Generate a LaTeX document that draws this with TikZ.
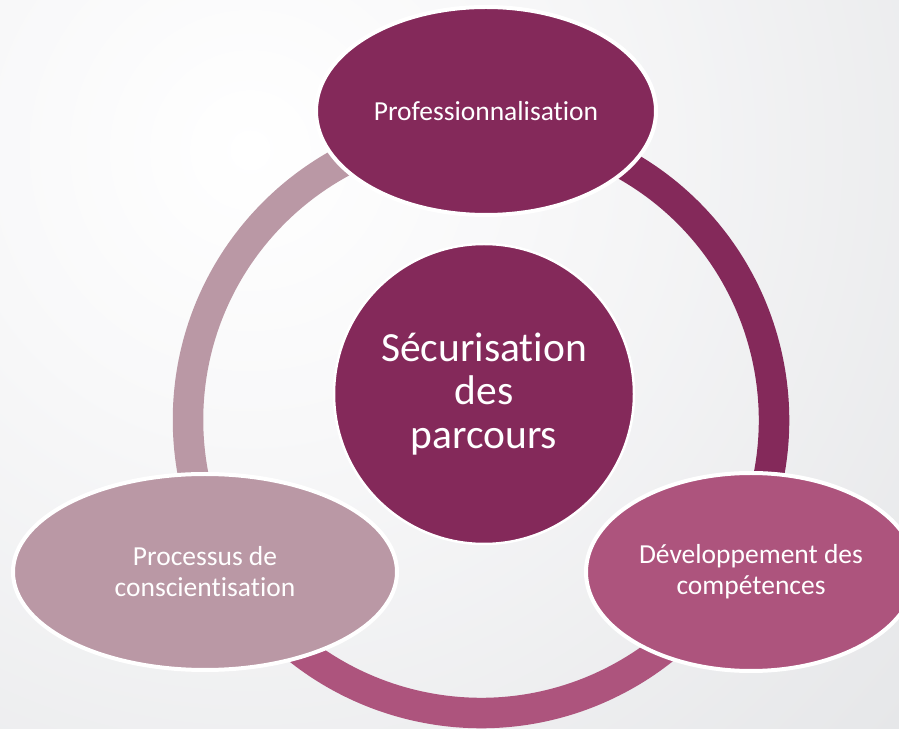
\documentclass[tikz,border=0pt]{standalone}
\usepackage{fontspec}
\setmainfont{Carlito}[RawFeature={-liga;-clig}]
\usetikzlibrary{shapes.geometric}
\definecolor{darkplum}{HTML}{84295A}
\definecolor{midplum}{HTML}{AD547D}
\definecolor{lightplum}{HTML}{BA98A5}
\definecolor{bgA}{HTML}{F8F8F9}
\definecolor{bgB}{HTML}{E5E6E8}
\pgfdeclareradialshading{bgshade}{\pgfpoint{0bp}{0bp}}{color(0bp)=(white); color(280bp)=(bgA); color(900bp)=(bgB)}
\tikzset{
  ringseg/.style={line width=30.5pt},
  blob/.style={ellipse, draw=white, line width=4pt, inner sep=0pt, text=white, align=center,
    font=\fontsize{27.5}{31}\selectfont},
  hub/.style={circle, draw=white, line width=2.5pt, inner sep=0pt, text=white, align=center,
    font=\fontsize{41.5}{43.5}\selectfont}
}
\begin{document}
\begin{tikzpicture}[x=1pt,y=1pt]
\useasboundingbox (0,0) rectangle (899,728);
\begin{scope}
  \clip (0,0) rectangle (899,728);
  \node[inner sep=0pt, outer sep=0pt] (bg) at (250,578) {\pgfuseshading{bgshade}};
\end{scope}
\coordinate (ringc) at (481,308);
% ring segments
\draw[ringseg, darkplum] (ringc) ++(-29.4:293) arc[start angle=-29.4, end angle=89, radius=293];
\draw[ringseg, midplum] (ringc) ++(-151.2:293) arc[start angle=-151.2, end angle=-29.4, radius=293];
\draw[ringseg, lightplum] (ringc) ++(89:293) arc[start angle=89, end angle=208.8, radius=293];
% nodes
\node[blob, fill=darkplum, minimum width=340pt, minimum height=208pt] (prof) at (486,617) {Professionnalisation};
\node[blob, fill=lightplum, minimum width=384pt, minimum height=196pt] (proc) at (205,156) {Processus de\\conscientisation};
\node[blob, fill=midplum, minimum width=330pt, minimum height=198pt] (dev) at (751,156) {Développement des\\compétences};
\node[hub, fill=darkplum, minimum size=300pt] (secu) at (484,334) {Sécurisation\\des\\parcours};
\end{tikzpicture}
\end{document}
